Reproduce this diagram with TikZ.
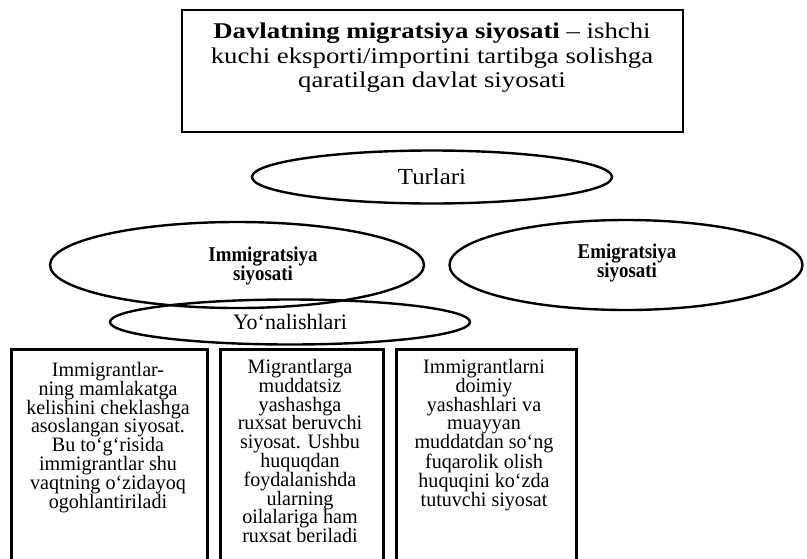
\documentclass[tikz,border=0pt]{standalone}
\usepackage{fontspec}
\setmainfont{Liberation Serif}
\newfontfamily\titlefont[FakeStretch=1.19]{Liberation Serif}
\newfontfamily\boxfont[FakeStretch=0.98]{Liberation Serif}
\newfontfamily\ovalfont[FakeStretch=1.08]{Liberation Serif}
\newfontfamily\ovalbold[FakeStretch=0.9]{Liberation Serif}
\usetikzlibrary{shapes.geometric}
\begin{document}
\begin{tikzpicture}[x=1pt,y=-1pt,
  frame/.style={draw, line width=2.6pt, inner sep=0pt},
  oval/.style={ellipse, draw, line width=2.4pt, inner sep=0pt},
  boxtext/.style={align=center, anchor=north, inner sep=0pt, font=\boxfont\fontsize{20.5}{18.8}\selectfont},
  ovaltext/.style={align=center, inner sep=0pt, font=\ovalbold\bfseries\fontsize{21}{19.5}\selectfont},
]
\useasboundingbox (0,0) rectangle (807,558);
\clip (0,0) rectangle (807,558);

% title box
\node[frame, minimum width=501pt, minimum height=122pt] (title) at (432.5,71) {};
\node[align=center, anchor=north, inner sep=0pt, font=\titlefont\fontsize{22.5}{24.5}\selectfont] (titletext) at (432,23)
  {\textbf{Davlatning migratsiya siyosati} – ishchi\\kuchi eksporti/importini tartibga solishga\\qaratilgan davlat siyosati};

% ellipses
\node[oval, minimum width=360pt, minimum height=53pt, font=\ovalfont\fontsize{23}{26}\selectfont] (turlari) at (432,177) {Turlari};

\node[oval, minimum width=374pt, minimum height=86pt] (imm) at (237,265) {};
\node[ovaltext] (immtext) at (263,266) {Immigratsiya\\siyosati};

\node[oval, minimum width=353pt, minimum height=90pt] (emi) at (626,265) {};
\node[ovaltext] (emitext) at (627,263) {Emigratsiya\\siyosati};

\node[oval, minimum width=360pt, minimum height=45pt, font=\fontsize{22}{24}\selectfont] (yon) at (290,322) {Yo‘nalishlari};

% boxes (cut off at the bottom)
\node[frame, anchor=north west, minimum width=196pt, minimum height=240pt] (b1) at (10,348) {};
\node[frame, anchor=north west, minimum width=163pt, minimum height=240pt] (b2) at (219,348) {};
\node[frame, anchor=north west, minimum width=180pt, minimum height=240pt] (b3) at (395,348) {};

\node[boxtext] (t1) at (108,362) {Immigrantlar-\\ning mamlakatga\\kelishini cheklashga\\asoslangan siyosat.\\Bu to‘g‘risida\\immigrantlar shu\\vaqtning o‘zidayoq\\ogohlantiriladi};
\node[boxtext] (t2) at (300,359) {Migrantlarga\\muddatsiz\\yashashga\\ruxsat beruvchi\\siyosat. Ushbu\\huquqdan\\foydalanishda\\ularning\\oilalariga ham\\ruxsat beriladi};
\node[boxtext] (t3) at (484,359) {Immigrantlarni\\doimiy\\yashashlari va\\muayyan\\muddatdan so‘ng\\fuqarolik olish\\huquqini ko‘zda\\tutuvchi siyosat};
\end{tikzpicture}
\end{document}
